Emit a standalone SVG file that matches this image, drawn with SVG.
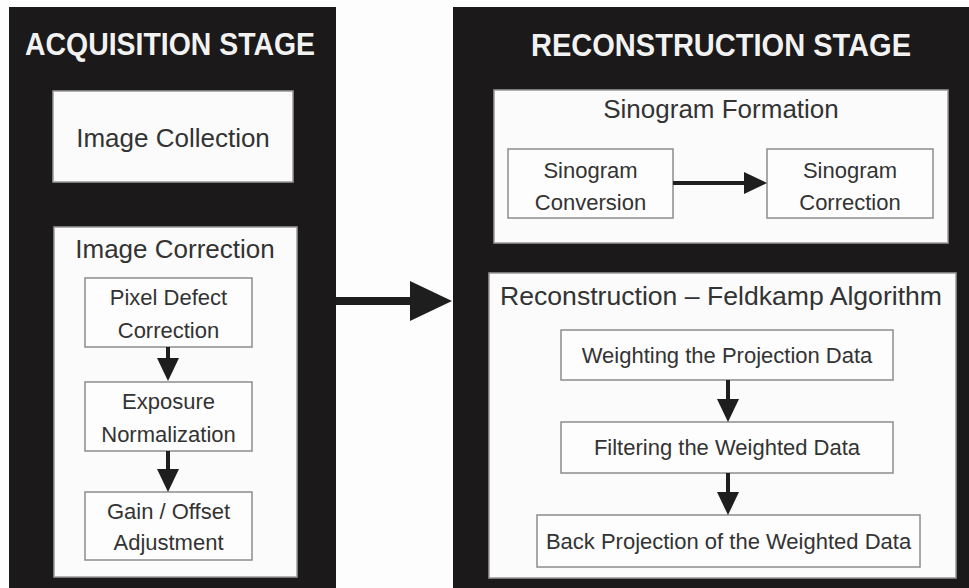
<svg xmlns="http://www.w3.org/2000/svg" width="969" height="588" viewBox="0 0 969 588">
<style>
.bg{fill:#fdfdfd}
.panel{fill:#1b1919}
.title{font-family:"Liberation Sans",Arial,sans-serif;font-weight:bold;font-size:32px;fill:#f2f2f2;text-anchor:middle}
.big{fill:#fbfbfb;stroke:#9a9a9a;stroke-width:1.5}
.small{fill:#fdfdfd;stroke:#8c8c8c;stroke-width:1.5}
.t26{font-family:"Liberation Sans",Arial,sans-serif;font-size:26px;fill:#333;text-anchor:middle}
.t22{font-family:"Liberation Sans",Arial,sans-serif;font-size:22px;fill:#333;text-anchor:middle}
.conn{fill:none;stroke:#1e1e1e;stroke-width:4}
.connBig{fill:none;stroke:#1e1e1e;stroke-width:8}
</style>
<defs>
<marker id="head" markerUnits="userSpaceOnUse" viewBox="0 -11 24 22" markerWidth="24" markerHeight="22" refX="0" refY="0" orient="auto" overflow="visible">
<path d="M0,-11 L23,0 L0,11 z" fill="#1e1e1e"/>
</marker>
<marker id="headBig" markerUnits="userSpaceOnUse" viewBox="0 -20 42 40" markerWidth="42" markerHeight="40" refX="0" refY="0" orient="auto" overflow="visible">
<path d="M0,-20 L42,0 L0,20 z" fill="#1e1e1e"/>
</marker>
</defs>
<rect class="bg" x="0" y="0" width="969" height="588"/>

<g id="acquisition-stage">
<rect class="panel" x="9" y="7" width="327" height="581"/>
<text class="title" x="170" y="55" textLength="290" lengthAdjust="spacingAndGlyphs">ACQUISITION STAGE</text>
</g>
<g id="image-collection">
<rect class="big" x="53" y="91" width="240" height="91"/>
<text class="t26" x="173" y="147">Image Collection</text>
</g>
<g id="image-correction">
<rect class="big" x="54" y="227" width="243" height="350"/>
<text class="t26" x="175" y="258">Image Correction</text>
</g>
<g id="pixel-defect-correction">
<rect class="small" x="85" y="278" width="167" height="69"/>
<text class="t22" x="168.5" y="305">Pixel Defect</text>
<text class="t22" x="168.5" y="338">Correction</text>
</g>
<g id="exposure-normalization">
<rect class="small" x="85" y="382" width="167" height="69"/>
<text class="t22" x="168.5" y="409">Exposure</text>
<text class="t22" x="168.5" y="442">Normalization</text>
</g>
<g id="gain-offset-adjustment">
<rect class="small" x="85" y="492" width="167" height="68"/>
<text class="t22" x="168.5" y="519">Gain / Offset</text>
<text class="t22" x="168.5" y="550">Adjustment</text>
</g>

<g id="reconstruction-stage">
<rect class="panel" x="453" y="7" width="516" height="581"/>
<text class="title" x="721" y="56" textLength="380" lengthAdjust="spacingAndGlyphs">RECONSTRUCTION STAGE</text>
</g>
<g id="sinogram-formation">
<rect class="big" x="494" y="90" width="454" height="153"/>
<text class="t26" x="721" y="118">Sinogram Formation</text>
</g>
<g id="sinogram-conversion">
<rect class="small" x="508" y="149" width="165" height="69"/>
<text class="t22" x="590.5" y="178">Sinogram</text>
<text class="t22" x="590.5" y="210">Conversion</text>
</g>
<g id="sinogram-correction">
<rect class="small" x="767" y="149" width="166" height="69"/>
<text class="t22" x="850" y="178">Sinogram</text>
<text class="t22" x="850" y="210">Correction</text>
</g>
<g id="reconstruction-feldkamp">
<rect class="big" x="489" y="273" width="467" height="305"/>
<text class="t26" x="721" y="305" textLength="442" lengthAdjust="spacingAndGlyphs">Reconstruction – Feldkamp Algorithm</text>
</g>
<g id="weighting">
<rect class="small" x="561" y="330" width="332" height="50"/>
<text class="t22" x="727" y="363">Weighting the Projection Data</text>
</g>
<g id="filtering">
<rect class="small" x="561" y="422" width="332" height="51"/>
<text class="t22" x="727" y="455">Filtering the Weighted Data</text>
</g>
<g id="back-projection">
<rect class="small" x="537" y="515" width="383" height="52"/>
<text class="t22" x="728.5" y="549">Back Projection of the Weighted Data</text>
</g>

<g id="connectors">
<path class="conn" d="M168,347 V358" marker-end="url(#head)"/>
<path class="conn" d="M168,451 V469" marker-end="url(#head)"/>
<path class="conn" d="M673,183 H744" marker-end="url(#head)"/>
<path class="conn" d="M728,380 V399" marker-end="url(#head)"/>
<path class="conn" d="M728,473 V492" marker-end="url(#head)"/>
<path class="connBig" d="M336,301 H410" marker-end="url(#headBig)"/>
</g>
</svg>
